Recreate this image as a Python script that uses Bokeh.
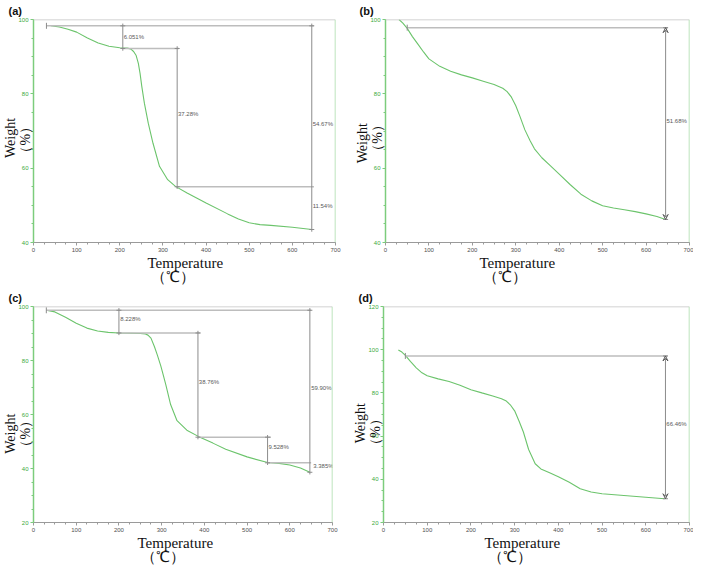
import math
from bokeh.plotting import figure
from bokeh.models import (Range1d, SingleIntervalTicker, Span, Arrow, VeeHead, Title,
                          ColumnDataSource)
from bokeh.layouts import column, row
from bokeh.core.properties import value
from bokeh.embed import file_html
from bokeh.resources import INLINE

# ---------------- data ----------------
a_temp = [40, 60, 80, 100, 125, 150, 175, 200, 217, 225, 232, 238, 243, 247, 251, 257, 266, 277,
          292, 311, 329, 356, 400, 450, 475, 500, 525, 550, 600, 645]
a_weight = [98.3, 98.0, 97.4, 96.6, 95.0, 93.7, 92.8, 92.4, 92.3, 92.1, 91.4, 90.3, 88.2, 85.5, 82.0,
            77.5, 72.1, 66.7, 60.5, 56.9, 55.1, 53.3, 50.6, 47.7, 46.3, 45.3, 44.8, 44.6, 44.1, 43.5]
a_hx0 = [30, 207, 333]
a_hx1 = [650, 337, 650]
a_hy = [98.3, 92.2, 55.0]
a_vx = [207, 333, 645]
a_vtop = [98.3, 92.2, 98.3]
a_vbot = [92.2, 55.0, 43.5]
a_pct = ["6.051%", "37.28%", "54.67%", "11.54%"]
a_pct_x = [209, 335, 647, 647]
a_pct_y = [95.3, 74.5, 71.8, 49.8]

b_temp = [31, 40, 50, 62, 75, 88, 100, 125, 150, 175, 200, 225, 250, 270, 280, 290, 300, 310, 321,
          333, 343, 360, 380, 400, 425, 450, 475, 500, 525, 550, 575, 600, 625, 645]
b_weight = [100.0, 99.0, 97.6, 95.4, 93.3, 91.2, 89.4, 87.4, 86.1, 85.1, 84.3, 83.4, 82.5, 81.5, 80.6,
            79.1, 76.8, 73.8, 70.3, 67.4, 65.2, 62.8, 60.6, 58.4, 55.6, 53.0, 51.2, 49.9, 49.3, 48.8,
            48.3, 47.7, 47.0, 46.2]
b_hx0 = [50]
b_hx1 = [650]
b_hy = [97.8]
b_ax = [645]
b_atop = [97.8]
b_abot = [46.2]
b_pct = ["51.68%"]
b_pct_x = [647]
b_pct_y = [72.8]

c_temp = [30, 50, 75, 100, 125, 150, 175, 200, 225, 250, 262, 268, 275, 283, 290, 298, 304, 310,
          321, 336, 359, 387, 420, 450, 500, 548, 575, 600, 625, 647]
c_weight = [98.6, 98.0, 96.0, 93.8, 92.0, 90.9, 90.4, 90.2, 90.1, 90.0, 89.8, 89.4, 88.3, 85.2, 82.0,
            78.0, 74.5, 70.9, 63.7, 57.7, 54.2, 51.8, 49.4, 47.1, 44.3, 42.2, 41.9, 41.3, 40.2, 38.6]
c_hx0 = [30, 200, 385, 548]
c_hx1 = [650, 391, 556, 650]
c_hy = [98.6, 90.2, 51.6, 42.1]
c_vx = [200, 385, 548, 647]
c_vtop = [98.6, 90.2, 51.6, 98.6]
c_vbot = [90.2, 51.6, 42.1, 38.6]
c_pct = ["8.228%", "38.76%", "9.528%", "59.90%", "3.385%"]
c_pct_x = [203, 387, 550, 650, 655]
c_pct_y = [95.2, 72.0, 47.8, 69.9, 41.0]

d_temp = [34, 42, 50, 62, 75, 88, 100, 125, 150, 175, 200, 225, 250, 270, 281, 290, 300, 310, 320,
          332, 347, 360, 380, 400, 425, 450, 475, 500, 550, 600, 643]
d_weight = [99.9, 98.9, 97.4, 94.5, 91.6, 89.3, 87.9, 86.5, 85.3, 83.5, 81.5, 80.0, 78.6, 77.3, 76.2,
            74.5, 71.7, 67.0, 61.9, 53.8, 47.2, 44.8, 43.0, 41.2, 38.6, 35.6, 34.1, 33.3, 32.5, 31.7,
            31.0]
d_hx0 = [50]
d_hx1 = [650]
d_hy = [97.1]
d_ax = [645]
d_atop = [97.1]
d_abot = [31.0]
d_pct = ["66.46%"]
d_pct_x = [647]
d_pct_y = [65.4]

x_title = "Temperature"
x_unit = "\uff08\u2103\uff09"
y_word = "Weight"
y_unit = "\uff08%\uff09"

# ---------------- styles ----------------
CURVE = "#6cc46c"
AXIS_GREEN = "#7ccc7c"
TICK_GREEN = "#3aaa3a"
BORDER_GREEN = "#a8dca8"
BORDER_GREY = "#c4c4c4"
HLINE = "#bdbdbd"
VLINE = "#8c8c8c"
PCT = "#5a5a5a"
SERIF = "Liberation Serif"
NB = "\u00a0"


def make_panel(tag, temps, weights, ylo, yhi, size, borders, tag_offset, tag_standoff, xt_offset,
               ypad, hx0, hx1, hy, vx=None, vtop=None, vbot=None, ax=None, atop=None, abot=None,
               pct=None, pct_x=None, pct_y=None):
    w, h = size
    bl, br = borders
    p = figure(width=w, height=h, x_range=Range1d(0, 700), y_range=Range1d(ylo, yhi),
               output_backend="svg", toolbar_location=None,
               min_border_left=bl, min_border_right=br, min_border_top=5, min_border_bottom=40)
    p.outline_line_color = None
    p.grid.visible = False

    xa = p.xaxis[0]
    xa.ticker = SingleIntervalTicker(interval=100, num_minor_ticks=4)
    xa.axis_line_color = "#9a9a9a"
    xa.major_tick_line_color = "#9a9a9a"
    xa.minor_tick_line_color = "#9a9a9a"
    xa.major_tick_out = 3
    xa.major_tick_in = 0
    xa.minor_tick_out = 2
    xa.minor_tick_in = 0
    xa.major_label_standoff = 2
    xa.major_label_text_font = "Liberation Sans"
    xa.major_label_text_font_size = "6px"
    xa.major_label_text_color = "#505050"

    ya = p.yaxis[0]
    ya.ticker = SingleIntervalTicker(interval=20, num_minor_ticks=4)
    ya.axis_line_color = AXIS_GREEN
    ya.axis_line_width = 1.5
    ya.major_tick_line_color = AXIS_GREEN
    ya.minor_tick_line_color = AXIS_GREEN
    ya.major_tick_out = 3
    ya.major_tick_in = 0
    ya.minor_tick_out = 2
    ya.minor_tick_in = 0
    ya.major_label_standoff = 2
    ya.major_label_text_font = "Liberation Sans"
    ya.major_label_text_font_size = "6px"
    ya.major_label_text_color = TICK_GREEN
    # trailing no-break spaces push the centred words down along the axis, as in the original
    ya.axis_label = y_word + NB * ypad[0] + "\n" + y_unit + NB * ypad[1]
    ya.axis_label_text_font = SERIF
    ya.axis_label_text_font_size = "14px"
    ya.axis_label_text_font_style = "normal"
    ya.axis_label_text_color = "#111111"
    ya.axis_label_text_line_height = 1.0
    ya.axis_label_standoff = -18

    p.add_layout(Title(text=tag, align="left", offset=tag_offset, standoff=tag_standoff,
                       text_font="Liberation Sans", text_font_style="bold",
                       text_font_size="11px", text_color="#111111"), "above")
    p.add_layout(Title(text=x_title + "\n" + NB + x_unit, align="left", vertical_align="top",
                       offset=xt_offset, standoff=0, text_line_height=0.9,
                       text_font=SERIF, text_font_style="normal", text_font_size="15px",
                       text_color="#111111"), "below")

    # frame borders (top grey, right green)
    p.add_layout(Span(location=yhi, dimension="width", line_color=BORDER_GREY, line_width=1.5))
    p.add_layout(Span(location=700, dimension="height", line_color=BORDER_GREEN, line_width=1.5))

    # curve
    p.line(temps, weights, line_color=CURVE, line_width=1.1)

    # bracket lines
    p.segment(x0=hx0, y0=hy, x1=hx1, y1=hy, line_color=HLINE, line_width=1.5)
    ext = 0.01 * (yhi - ylo)
    p.scatter([hx0[0]], [hy[0]], marker="dash", angle=math.pi / 2, size=6,
              line_color=VLINE, line_width=1)
    if vx:
        p.segment(x0=vx, y0=[v + ext for v in vtop], x1=vx, y1=[v - ext for v in vbot],
                  line_color=VLINE, line_width=1)
        p.scatter(vx + vx, vtop + vbot, marker="dash", size=5, line_color=VLINE, line_width=1)
    if ax:
        for xx, y0, y1 in zip(ax, atop, abot):
            p.add_layout(Arrow(x_start=xx, y_start=y0, x_end=xx, y_end=y1,
                               line_color=VLINE, line_width=1,
                               start=VeeHead(size=5, line_color="#555555", line_width=1, fill_color=None),
                               end=VeeHead(size=5, line_color="#555555", line_width=1, fill_color=None)))
        p.scatter(ax + ax, atop + abot, marker="dash", size=5, line_color=VLINE, line_width=1)
    src = ColumnDataSource(dict(x=pct_x, y=pct_y, t=pct))
    p.text(x="x", y="y", text="t", source=src, text_font=value("Liberation Sans"),
           text_font_size="6px", text_color=PCT, text_align="left", text_baseline="middle")
    return p


pa = make_panel("(a)", a_temp, a_weight, 40, 100, (346, 286), (24, 11), -25, 5, 114, (4, 5),
                a_hx0, a_hx1, a_hy, vx=a_vx, vtop=a_vtop, vbot=a_vbot,
                pct=a_pct, pct_x=a_pct_x, pct_y=a_pct_y)
pb = make_panel("(b)", b_temp, b_weight, 40, 100, (347, 286), (39, 4), -26, 5, 94, (7, 4),
                b_hx0, b_hx1, b_hy, ax=b_ax, atop=b_atop, abot=b_abot,
                pct=b_pct, pct_x=b_pct_x, pct_y=b_pct_y)
pc = make_panel("(c)", c_temp, c_weight, 20, 100, (346, 280), (24, 14), -25, 6, 104, (11, 11),
                c_hx0, c_hx1, c_hy, vx=c_vx, vtop=c_vtop, vbot=c_vbot,
                pct=c_pct, pct_x=c_pct_x, pct_y=c_pct_y)
pd_ = make_panel("(d)", d_temp, d_weight, 20, 120, (347, 280), (37, 4), -25, 6, 101, (5, 10),
                 d_hx0, d_hx1, d_hy, ax=d_ax, atop=d_atop, abot=d_abot,
                 pct=d_pct, pct_x=d_pct_x, pct_y=d_pct_y)

layout = column(row(pa, pb), row(pc, pd_))
open("out.html", "w").write(file_html(layout, INLINE))
